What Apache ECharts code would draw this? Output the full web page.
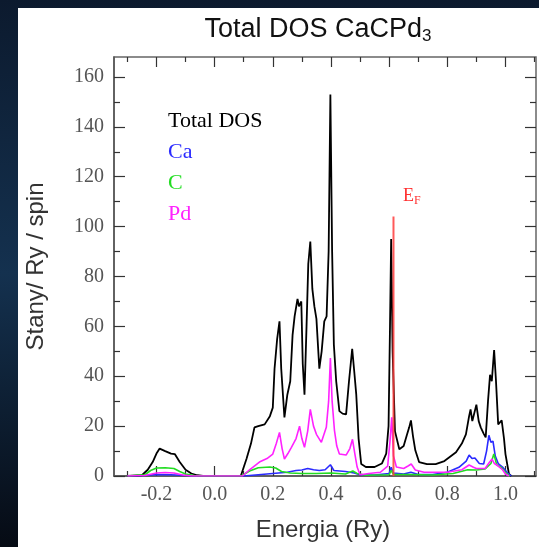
<!DOCTYPE html>
<html><head><meta charset="utf-8">
<script src="https://cdn.jsdelivr.net/npm/echarts@6/dist/echarts.min.js"></script>
<style>html,body{margin:0;padding:0;background:#08121f}#c{width:539px;height:547px}</style>
</head><body><div id="c"></div>
<script>
// ---- data ----
const totalE = [-0.30,-0.25,-0.23,-0.213,-0.20,-0.189,-0.17,-0.15,-0.137,-0.12,-0.10,-0.08,-0.06,-0.04,0.09,0.096,0.11,0.125,0.137,0.15,0.172,0.19,0.2,0.206,0.215,0.223,0.229,0.24,0.25,0.26,0.268,0.275,0.285,0.29,0.298,0.303,0.309,0.316,0.322,0.329,0.336,0.343,0.35,0.36,0.368,0.377,0.385,0.392,0.398,0.404,0.41,0.418,0.429,0.44,0.452,0.462,0.473,0.48,0.487,0.495,0.504,0.52,0.55,0.575,0.59,0.598,0.603,0.607,0.612,0.62,0.635,0.65,0.66,0.669,0.675,0.682,0.69,0.703,0.73,0.76,0.79,0.83,0.85,0.864,0.875,0.88,0.886,0.892,0.9,0.908,0.915,0.925,0.932,0.94,0.947,0.953,0.961,0.967,0.975,0.98,0.987,0.995,1.0,1.012,1.02];
const totalDOS = [0,0.3,2.5,5.6,9,11,10,9,8.8,5.6,2.5,1,0.3,0,0,0.8,7,13,19.5,20,20.7,24,27.4,43,55,62,43,23.5,32.6,38,56.5,64,71,68,70,45,32.6,60,85,94,75,68,63,43,50,62,64,90,153,90,52.6,38,26,25,24.7,38,51,42,32.6,15,4.8,3.6,3.6,5,9,20,60,95,50,18,10.7,12,16,19.5,22.3,16,10.3,5.6,4.8,4.8,6,9.5,13,16.7,24,26.7,22,21.5,28.6,22,19.5,17,15.5,30,40.6,38,50.5,39,20.7,21,22.3,15,8.8,0.8,0];

const caE = [-0.30,-0.24,-0.2,-0.15,-0.1,-0.05,0.1,0.15,0.2,0.25,0.28,0.30,0.32,0.34,0.36,0.38,0.398,0.41,0.45,0.48,0.5,0.55,0.6,0.607,0.615,0.65,0.675,0.7,0.75,0.8,0.84,0.865,0.875,0.885,0.895,0.91,0.925,0.935,0.943,0.95,0.957,0.965,0.975,0.99,1.005,1.02];
const caDOS = [0,0.2,0.6,0.5,0.2,0,0,0.5,1,1.5,2.2,2.4,3,2.5,2.2,2.5,4.5,2.2,1.8,1.2,0.5,0.4,1,3.5,1.2,0.8,1.5,0.6,0.6,1.5,3.5,6,8.4,7,7.2,5,4.8,10,16.3,13.5,14,8,5,3.6,1.5,0];

const cE = [-0.30,-0.24,-0.22,-0.2,-0.17,-0.14,-0.12,-0.1,-0.07,-0.04,0.09,0.1,0.12,0.15,0.19,0.21,0.23,0.26,0.3,0.35,0.4,0.45,0.475,0.49,0.52,0.6,0.607,0.615,0.675,0.75,0.82,0.87,0.9,0.93,0.95,0.96,0.97,0.985,1.0,1.015];
const cDOS = [0,0.5,2.2,3.2,3.3,3,1.8,0.8,0.2,0,0,0.6,2,3.3,3.6,3.2,1.8,1.2,1,1,1.2,0.8,2,1,0.3,0.5,2.2,0.6,0.6,0.4,1,2.5,2.4,2.8,5,8.8,4.5,3.5,1.5,0];

const pdE = [-0.30,-0.24,-0.2,-0.17,-0.14,-0.11,-0.08,0.096,0.12,0.154,0.18,0.2,0.212,0.223,0.232,0.24,0.252,0.264,0.28,0.292,0.3,0.309,0.32,0.329,0.34,0.35,0.367,0.384,0.392,0.398,0.404,0.412,0.42,0.429,0.452,0.465,0.474,0.482,0.49,0.5,0.53,0.57,0.595,0.603,0.609,0.615,0.625,0.65,0.665,0.676,0.69,0.72,0.8,0.85,0.875,0.89,0.9,0.93,0.945,0.954,0.962,0.975,0.99,1.0,1.012];
const pdDOS = [0,0.2,1.2,1.4,1.2,0.4,0,0,2.5,5.6,7,8.8,13,17.5,11,6.8,9,11.5,15,20,15,11.5,18,26.7,20,16.7,13.5,19.5,30,47.3,30,18.3,12,8.8,8.4,11,14.7,9,3.6,0.5,1,1.5,4,14,23.5,8,3.6,3,4,4.8,2.4,1.5,1.5,2.5,4.4,3.5,3,3,5.5,6.8,5,4,2.5,0.8,0];

const efE = [0.615, 0.615];
const efDOS = [0, 104];

const xMajor = [-0.2, 0.0, 0.2, 0.4, 0.6, 0.8, 1.0];
const xMinor = [-0.3, -0.1, 0.1, 0.3, 0.5, 0.7, 0.9, 1.1];
const yMajor = [0, 20, 40, 60, 80, 100, 120, 140, 160];
const yMinor = [10, 30, 50, 70, 90, 110, 130, 150];

const names = ['Total DOS', 'Ca', 'C', 'Pd'];
const colors = ['#000000', '#2a2aff', '#22dd22', '#ff22ff'];

// ---- chart ----
const zip = (a, b) => a.map((v, i) => [v, b[i]]);
const axisColor = '#555';
const serif = 'Liberation Serif';
const sans = 'Liberation Sans';
const XMIN = -0.346, XMAX = 1.105, YMIN = 0, YMAX = 168;

function xAx(pos, vals, len, labels) {
  return {
    type: 'value', position: pos, min: XMIN, max: XMAX,
    axisLine: { show: labels, onZero: false, lineStyle: { color: axisColor, width: 1.5 } },
    axisTick: { show: true, inside: true, length: len, customValues: vals, lineStyle: { color: '#333', width: 1.2 } },
    axisLabel: labels ? { show: true, customValues: vals, formatter: v => v.toFixed(1), fontFamily: serif, fontSize: 20, color: '#555', margin: 9 } : { show: false },
    splitLine: { show: false },
    name: labels ? 'Energia (Ry)' : '', nameLocation: 'middle', nameGap: 42,
    nameTextStyle: { fontFamily: sans, fontSize: 24, color: '#333', padding: [0, 4, 0, 0] }
  };
}
function yAx(pos, vals, len, labels) {
  return {
    type: 'value', position: pos, min: YMIN, max: YMAX,
    axisLine: { show: labels, onZero: false, lineStyle: { color: axisColor, width: 1.5 } },
    axisTick: { show: true, inside: true, length: len, customValues: vals, lineStyle: { color: '#333', width: 1.2 } },
    axisLabel: labels ? { show: true, customValues: vals, fontFamily: serif, fontSize: 20, color: '#555', margin: 10 } : { show: false },
    splitLine: { show: false },
    name: labels ? 'Stany/ Ry / spin' : '', nameLocation: 'middle', nameGap: 66, nameRotate: 90,
    nameTextStyle: { fontFamily: sans, fontSize: 24, color: '#333' }
  };
}

const chart = echarts.init(document.getElementById('c'), null, { renderer: 'canvas' });
const lineSeries = (name, e, d, color, w) => ({
  name, type: 'line', data: zip(e, d), showSymbol: false, symbol: 'none',
  lineStyle: { color, width: w }, itemStyle: { color }, animation: false, z: 3
});

chart.setOption({
  backgroundColor: {
    type: 'linear', x: 0, y: 0, x2: 0, y2: 1,
    colorStops: [{ offset: 0, color: '#0c1a2e' }, { offset: 0.5, color: '#14314f' }, { offset: 1, color: '#060b14' }]
  },
  animation: false,
  graphic: [
    { type: 'rect', left: 18, top: 8, shape: { width: 521, height: 539 }, style: { fill: '#ffffff' }, z: -10 },
    { type: 'text', left: 403, top: 187, z: 10,
      style: { text: '{e|E}{f|F}', rich: { e: { fontFamily: serif, fontSize: 18, fill: '#ff3030' }, f: { fontFamily: serif, fontSize: 12, fill: '#ff3030', padding: [10, 0, 0, 0] } } } }
  ],
  title: {
    text: '{a|Total DOS CaCPd}{b|3}', left: 313, top: 10, textAlign: 'center',
    textStyle: { rich: { a: { fontFamily: sans, fontSize: 27, fontWeight: 'normal', color: '#111' }, b: { fontFamily: sans, fontSize: 17, fontWeight: 'normal', color: '#111', padding: [13, 0, 0, 0] } } }
  },
  legend: {
    data: names.map((n, i) => ({ name: n, icon: 'none', textStyle: { color: colors[i] } })),
    orient: 'vertical', left: 158, top: 105, itemWidth: 0, itemHeight: 10, itemGap: 9,
    textStyle: { fontFamily: serif, fontSize: 22 }, selectedMode: false
  },
  grid: { left: 114, right: 3, top: 57, bottom: 68, show: true, borderColor: '#666', borderWidth: 1.5, backgroundColor: 'transparent' },
  xAxis: [xAx('bottom', xMajor, 10, true), xAx('bottom', xMinor, 5, false), xAx('top', xMajor, 10, false), xAx('top', xMinor, 5, false)],
  yAxis: [yAx('left', yMajor, 11, true), yAx('left', yMinor, 6, false), yAx('right', yMajor, 11, false), yAx('right', yMinor, 6, false)],
  series: [
    lineSeries(names[0], totalE, totalDOS, colors[0], 1.8),
    lineSeries(names[1], caE, caDOS, colors[1], 1.6),
    lineSeries(names[2], cE, cDOS, colors[2], 1.6),
    lineSeries(names[3], pdE, pdDOS, colors[3], 1.6),
    Object.assign(lineSeries('EF', efE, efDOS, 'rgba(255,60,60,0.85)', 2), { z: 4 })
  ]
});
</script></body></html>
